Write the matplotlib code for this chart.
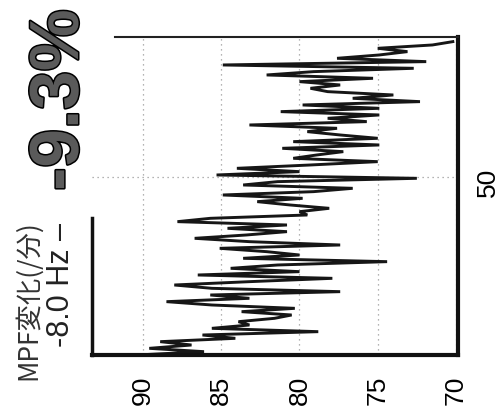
import numpy as np
import matplotlib
matplotlib.use('Agg')
import matplotlib.pyplot as plt
import matplotlib.patheffects as pe
from matplotlib.lines import Line2D

# MPF values (Hz), from start (time 0) to end
mpf_hz = [90.4, 86.1, 89.6, 86.9, 88.9, 84.1, 86.2, 78.8, 85.6, 83.2,
          83.9, 81.6, 80.5, 83.7, 80.3, 85.6, 88.5, 83.2, 85.7, 77.4,
          85.6, 88.0, 83.2, 77.9, 86.5, 80.0, 84.4, 81.4, 74.4, 83.6,
          80.0, 82.1, 85.1, 77.4, 83.2, 86.7, 83.4, 80.8, 84.6, 80.8,
          87.8, 85.7, 79.5, 80.0, 78.1, 80.6, 82.7, 79.8, 84.9, 79.1,
          76.6, 83.6, 81.4, 72.5, 85.3, 80.0, 84.0, 79.3, 75.0, 80.4,
          78.9, 77.2, 81.1, 74.9, 80.4, 75.0, 77.4, 79.5, 77.6, 83.2,
          75.7, 78.2, 74.9, 81.2, 74.9, 79.8, 72.3, 76.6, 74.0, 78.2,
          79.3, 77.4, 80.0, 75.3, 82.1, 79.1, 72.7, 84.9, 71.9, 77.6,
          74.9, 73.1, 75.0, 71.5, 70.2]
time_s = np.linspace(0, 88, len(mpf_hz))

mpf_ticks = [90, 85, 80, 75, 70]
mpf_ticklabels = ['90', '85', '80', '75', '70']
time_ticks = [50]
time_ticklabels = ['50']

title_main = 'MPF変化(/分)'
title_hz = '-8.0 Hz –'
title_pct = '-9.3%'

W, H = 501, 418
fig = plt.figure(figsize=(W / 100, H / 100), dpi=100)
fig.patch.set_facecolor('white')

L, R, T, B = 92, 458, 37, 355
ax = fig.add_axes([L / W, 1 - B / H, (R - L) / W, (B - T) / H])
ax.plot(mpf_hz, time_s, color='#161616', linewidth=2.1, solid_joinstyle='miter')

ax.set_xlim(93.26, 69.87)
ax.set_ylim(0, 89.3)

ax.set_xticks(mpf_ticks)
ax.set_xticklabels(mpf_ticklabels, family='Liberation Sans')
ax.tick_params(axis='x', length=0, pad=15, labelsize=19, labelrotation=90)

ax.yaxis.tick_right()
ax.set_yticks(time_ticks)
ax.set_yticklabels(time_ticklabels, family='Liberation Sans')
ax.tick_params(axis='y', length=0, pad=13, labelsize=19, labelrotation=90)

ax.grid(True, color='#9a9a9a', linestyle=(0, (1, 3)), linewidth=0.9)

for s in ax.spines.values():
    s.set_visible(False)


def fx(px):
    return px / W


def fy(py):
    return 1 - py / H


# frame as in the scan: thick right and bottom, thin top, partial left
frame = [
    ([fx(R), fx(R)], [fy(T), fy(B)], 3.0, '#111111'),
    ([fx(L), fx(R)], [fy(B), fy(B)], 3.0, '#111111'),
    ([fx(115), fx(R)], [fy(T), fy(T)], 1.5, '#222222'),
    ([fx(L), fx(L)], [fy(218), fy(B)], 2.5, '#111111'),
]
for xs, ys, lw, c in frame:
    fig.add_artist(Line2D(xs, ys, transform=fig.transFigure, linewidth=lw,
                          color=c, solid_capstyle='projecting', zorder=5))

fig.text(60 / W, 1 - 100 / H, title_pct, rotation=90, ha='center', va='center',
         family='Liberation Sans', weight='bold', fontsize=50, color='#5a5a5a',
         path_effects=[pe.withStroke(linewidth=2.2, foreground='black')])
fig.text(28 / W, 1 - 300 / H, title_main, rotation=90, ha='center', va='center',
         family=['Noto Sans CJK JP', 'DejaVu Sans'], fontsize=19, color='#333333')
fig.text(61 / W, 1 - 285 / H, title_hz, rotation=90, ha='center', va='center',
         family='Liberation Sans', fontsize=22, color='#222222')

fig.savefig('out.png', dpi=100, facecolor='white')
